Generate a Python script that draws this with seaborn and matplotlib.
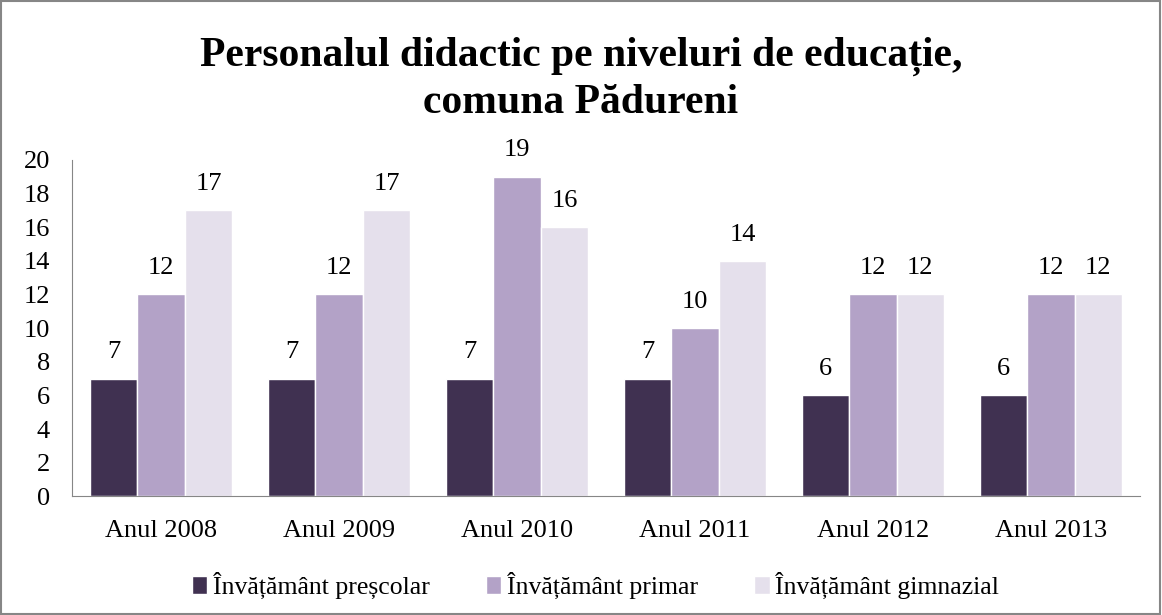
import matplotlib.pyplot as plt
import seaborn as sns
import pandas as pd

ani = ['Anul 2008', 'Anul 2009', 'Anul 2010', 'Anul 2011', 'Anul 2012', 'Anul 2013']
prescolar = [7, 7, 7, 7, 6, 6]
primar = [12, 12, 19, 10, 12, 12]
gimnazial = [17, 17, 16, 14, 12, 12]
serii = ['Învățământ preșcolar', 'Învățământ primar', 'Învățământ gimnazial']
culori = ['#403151', '#B3A2C7', '#E5E0EC']

df = pd.DataFrame({'an': ani * 3,
                   'nivel': [serii[0]] * 6 + [serii[1]] * 6 + [serii[2]] * 6,
                   'valoare': prescolar + primar + gimnazial})

sns.set_style('white')
plt.rcParams['font.family'] = ['Liberation Serif', 'DejaVu Serif']

fig = plt.figure(figsize=(11.62, 6.15), dpi=100)
ax = fig.add_axes([0.062, 0.193, 0.919, 0.547])
sns.barplot(data=df, x='an', y='valoare', hue='nivel', palette=culori,
            width=0.8, gap=0, saturation=1, ax=ax)

for c in ax.containers:
    ax.bar_label(c, padding=11, fontsize=19, color='black')

ax.set_ylim(0, 20)
ax.set_yticks(range(0, 21, 2))
ax.set_xlim(-0.5, 5.5)
ax.set_xlabel('')
ax.set_ylabel('')
ax.tick_params(axis='both', length=0, labelsize=19, labelcolor='black')
ax.tick_params(axis='y', pad=16)
ax.tick_params(axis='x', pad=17)
sns.despine(ax=ax, top=True, right=True)
ax.spines['left'].set_color('#868686')
ax.spines['bottom'].set_color('#868686')

ax.legend(loc='upper center', bbox_to_anchor=(0.49, -0.155), ncol=3, frameon=False,
          fontsize=18.5, handlelength=0.6, handleheight=0.7, handletextpad=0.2,
          columnspacing=2.2, labelcolor='black')

fig.suptitle('Personalul didactic pe niveluri de educație,\ncomuna Pădureni',
             fontsize=30, fontweight='bold', y=0.94, linespacing=1.28, color='black')

fig.patches.append(plt.Rectangle((0.001, 0.002), 0.997, 0.996, transform=fig.transFigure,
                                 fill=False, edgecolor='#868686', linewidth=1.5))

plt.savefig('out.png', dpi=100)
